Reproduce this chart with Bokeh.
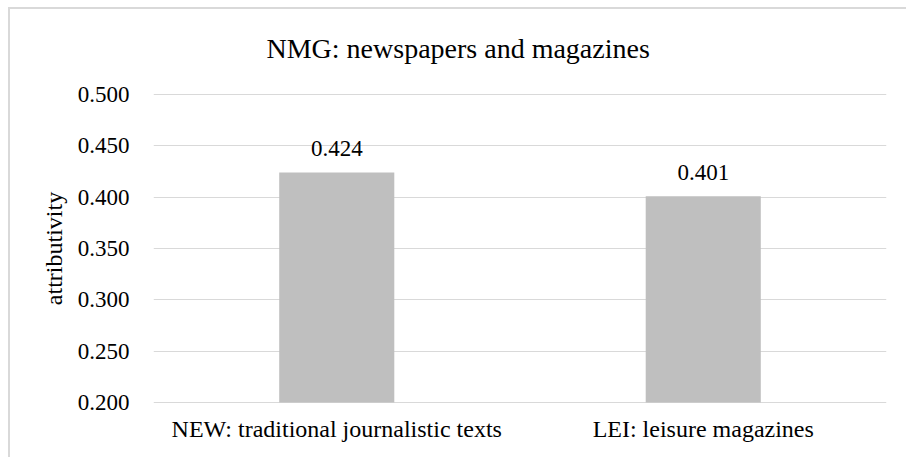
from bokeh.plotting import figure
from bokeh.models import Range1d, FixedTicker, NumeralTickFormatter, ColumnDataSource, Title, InlineStyleSheet
from bokeh.core.properties import value
from bokeh.embed import file_html
from bokeh.resources import INLINE

categories = ["NEW: traditional journalistic texts", "LEI: leisure magazines"]
values = [0.424, 0.401]
value_labels = ["0.424", "0.401"]
y_ticks = [0.200, 0.250, 0.300, 0.350, 0.400, 0.450, 0.500]
title_text = "NMG: newspapers and magazines"
y_label = "attributivity"

FONT = "Liberation Serif"
GRID = "#D9D9D9"
pad = 0.3 / 308.0  # one pixel of room so the edge gridlines are visible

chart_border = InlineStyleSheet(css="""
:host { position: relative; }
:host::after {
  content: "";
  position: absolute;
  left: 8px; top: 7px; right: 0; bottom: 0;
  border-left: 2px solid #D9D9D9;
  border-top: 2px solid #D9D9D9;
  pointer-events: none;
  z-index: 10;
}
""")

p = figure(width=906, height=457, x_range=categories,
           y_range=Range1d(y_ticks[0] - pad, y_ticks[-1] + pad),
           output_backend="svg", toolbar_location=None,
           min_border_left=153, min_border_right=20, min_border_top=93, min_border_bottom=54,
           stylesheets=[chart_border])
p.title = None
p.outline_line_color = None
p.background_fill_color = "white"
p.border_fill_color = "white"
p.x_range.range_padding = 0

src = ColumnDataSource(dict(cat=categories, val=values, lab=value_labels, base=[y_ticks[0]] * len(values)))
p.vbar(x="cat", top="val", bottom="base", width=0.314, source=src, fill_color="#BFBFBF", line_color=None)
p.text(x="cat", y="val", text="lab", source=src, text_font=value(FONT), text_font_size="23px",
       text_align="center", text_baseline="alphabetic", y_offset=-24, text_color="#000000")

p.xgrid.grid_line_color = None
p.ygrid.grid_line_color = GRID
p.ygrid.grid_line_width = 1
p.ygrid.ticker = FixedTicker(ticks=y_ticks)

ya = p.yaxis[0]
ya.ticker = FixedTicker(ticks=y_ticks)
ya.formatter = NumeralTickFormatter(format="0.000")
ya.axis_line_color = None
ya.major_tick_line_color = None
ya.minor_tick_line_color = None
ya.major_label_text_font = FONT
ya.major_label_text_font_size = "23px"
ya.major_label_text_color = "#000000"
ya.major_label_standoff = 18
ya.axis_label = y_label
ya.axis_label_text_font = FONT
ya.axis_label_text_font_size = "24px"
ya.axis_label_text_font_style = "normal"
ya.axis_label_text_color = "#000000"
ya.axis_label_standoff = 8

xa = p.xaxis[0]
xa.axis_line_color = None
xa.major_tick_line_color = None
xa.minor_tick_line_color = None
xa.major_label_text_font = FONT
xa.major_label_text_font_size = "24px"
xa.major_label_text_color = "#000000"
xa.major_label_standoff = 6

p.add_layout(Title(text=title_text, align="left", offset=113, standoff=60,
                   text_font=FONT, text_font_size="28px", text_font_style="normal",
                   text_color="#000000"), "above")

open("out.html", "w").write(file_html(p, INLINE))
